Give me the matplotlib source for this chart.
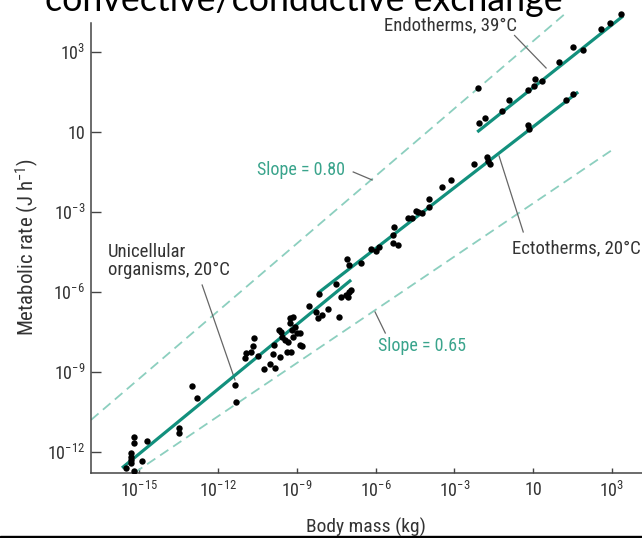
import numpy as np
import matplotlib
matplotlib.use("Agg")
import matplotlib.pyplot as plt
from matplotlib import font_manager
from matplotlib.ticker import FixedLocator, FixedFormatter, NullLocator
from matplotlib.patches import Rectangle

# ---------------- data (log10 units) ----------------
uni_logM = [-15.19, -15.19, -14.70, -15.30, -15.30, -15.30, -15.30, -15.49, -15.19, -14.89,
            -13.48, -13.48, -12.98, -12.79, -11.35, -11.31]
uni_logB = [-11.44, -11.66, -11.59, -12.04, -12.19, -12.30, -12.41, -12.60, -12.71, -12.34,
            -11.10, -11.29, -9.52, -9.97, -9.49, -10.12]

small_logM = [-10.62, -10.66, -10.93, -10.74, -10.47, -10.97, -10.24, -10.01, -9.82, -9.90,
              -9.86, -9.63, -9.59, -9.56, -9.44, -9.37, -9.21, -9.25, -9.14, -9.18,
              -9.06, -8.99, -8.87, -8.80, -9.14, -9.33, -8.87, -9.67, -8.53, -8.15,
              -8.26, -8.03, -7.81, -8.19, -7.50, -7.39, -7.31, -7.12, -7.01, -6.93,
              -7.04, -9.25]
small_logB = [-7.72, -8.02, -8.29, -8.25, -8.40, -8.47, -8.89, -8.70, -8.85, -8.32,
              -7.99, -8.44, -7.50, -7.69, -7.80, -8.25, -8.25, -7.16, -6.94, -7.42,
              -7.31, -7.54, -7.99, -8.02, -7.69, -7.87, -7.54, -7.42, -6.52, -6.07,
              -6.75, -6.86, -6.64, -6.97, -5.70, -6.94, -6.19, -6.11, -6.00, -5.92,
              -6.19, -6.97]

ecto_logM = [-7.08, -7.01, -6.55, -6.17, -5.98, -5.86, -5.33, -5.29, -5.33, -5.14,
             -4.76, -4.61, -4.46, -4.38, -4.23, -3.96, -3.96, -3.47, -3.12, -2.25,
             -1.75, -1.72, -1.64, -0.19, -0.15, 1.25, 1.52]
ecto_logB = [-4.76, -4.99, -4.91, -4.39, -4.46, -4.31, -3.86, -3.56, -4.16, -4.24,
             -3.22, -3.22, -2.96, -3.00, -3.04, -2.81, -2.51, -2.06, -1.80, -1.20,
             -0.94, -1.09, -1.20, 0.26, 0.11, 1.20, 1.43]

endo_logM = [-2.10, -2.06, -1.83, -1.18, -0.92, -0.19, 0.04, 0.07, 0.34, 0.99,
             1.52, 1.90, 2.59, 2.93, 3.35]
endo_logB = [1.65, 0.34, 0.53, 0.79, 1.20, 1.58, 1.73, 1.99, 1.91, 2.63,
             3.19, 3.08, 3.86, 4.09, 4.43]

# fitted lines (endpoints, log10 units)
uni_fit_logM = [-15.65, -6.93]
uni_fit_logB = [-12.60, -5.55]
ecto_fit_logM = [-8.19, 1.71]
ecto_fit_logB = [-6.04, 1.50]
endo_fit_logM = [-2.13, 3.42]
endo_fit_logB = [0.00, 4.35]
slope080_logM = [-16.83, 1.29]
slope080_logB = [-10.80, 4.50]
slope065_logM = [-15.19, 3.01]
slope065_logB = [-12.79, -0.67]

tick_exps = [-15, -12, -9, -6, -3, 0, 3]
xtick_labels = [r"$10^{-15}$", r"$10^{-12}$", r"$10^{-9}$", r"$10^{-6}$", r"$10^{-3}$", "10", r"$10^{3}$"]
ytick_exps = [-12, -9, -6, -3, 0, 3]
ytick_labels = [r"$10^{-12}$", r"$10^{-9}$", r"$10^{-6}$", r"$10^{-3}$", "10", r"$10^{3}$"]

title_text = "convective/conductive exchange"
xlabel_text = "Body mass (kg)"
ylabel_text = r"Metabolic rate (J h$^{-1}$)"

# ---------------- style ----------------
ttf = font_manager.fontManager.ttflist
names = {f.name for f in ttf}
cond = None
stretch = "normal"
for cand in ["Liberation Sans Narrow", "Roboto Condensed", "Open Sans Condensed",
             "Noto Sans Condensed", "DejaVu Sans Condensed", "Arial Narrow"]:
    if cand in names:
        cond = cand
        break
if cond is None:
    if any(f.name == "DejaVu Sans" and "Condensed" in f.fname for f in ttf):
        cond = "DejaVu Sans"
        stretch = "condensed"
    else:
        cond = "Liberation Sans"

plt.rcParams["font.family"] = [cond, "DejaVu Sans"]
plt.rcParams["font.stretch"] = stretch
plt.rcParams["mathtext.fontset"] = "custom"
plt.rcParams["mathtext.rm"] = cond
plt.rcParams["mathtext.it"] = cond + ":italic"
plt.rcParams["mathtext.bf"] = cond + ":bold"
plt.rcParams["mathtext.sf"] = cond

TEAL = "#12907d"
LTEAL = "#8ccfbf"
STEXT = "#3aa48c"
GRAY = "#444444"
TXT = "#333333"

p = lambda a: 10.0 ** np.asarray(a, dtype=float)

fig = plt.figure(figsize=(6.42, 5.38), dpi=100)
ax = fig.add_axes([91 / 642, (538 - 473) / 538, (642 - 91) / 642, 473 / 538])
ax.set_xscale("log")
ax.set_yscale("log")
ax.set_xlim(10 ** -16.83, 10 ** 4.14)
ax.set_ylim(10 ** -12.79, 10 ** 4.95)

# dashed reference lines
dash = (0, (5.5, 3.2))
ax.plot(p(slope080_logM), p(slope080_logB), color=LTEAL, lw=1.3, ls=dash, zorder=2)
ax.plot(p(slope065_logM), p(slope065_logB), color=LTEAL, lw=1.3, ls=dash, zorder=2)

# fits
for xm, yb in [(uni_fit_logM, uni_fit_logB), (ecto_fit_logM, ecto_fit_logB), (endo_fit_logM, endo_fit_logB)]:
    ax.plot(p(xm), p(yb), color=TEAL, lw=2.3, solid_capstyle="butt", zorder=3)

# points
for xm, yb in [(uni_logM, uni_logB), (small_logM, small_logB), (ecto_logM, ecto_logB), (endo_logM, endo_logB)]:
    ax.plot(p(xm), p(yb), "o", color="black", ms=4.6, mew=0, zorder=4)

# leader lines
leaders = [([-0.71, 0.49], [3.62, 2.40]),
           ([-1.30, -0.38], [-0.90, -3.75]),
           ([-12.60, -11.35], [-5.74, -9.30]),
           ([-6.85, -6.13], [-1.50, -1.80]),
           ([-6.02, -5.63], [-6.75, -7.54])]
for xm, yb in leaders:
    ax.plot(p(xm), p(yb), color="#666666", lw=0.9, zorder=2)

LFS = 13.5
ax.text(10 ** -3.16, 10 ** 4.01, "Endotherms, 39°C", ha="center", va="center", fontsize=LFS, color=TXT)
ax.text(10 ** 1.63, 10 ** -4.35, "Ectotherms, 20°C", ha="center", va="center", fontsize=LFS, color=TXT)
ax.text(10 ** -16.18, 10 ** -4.84, "Unicellular\norganisms, 20°C", ha="left", va="center",
        fontsize=LFS, color=TXT, linespacing=1.05)
ax.text(10 ** -8.83, 10 ** -1.42, "Slope = 0.80", ha="center", va="center", fontsize=13, color=STEXT)
ax.text(10 ** -4.23, 10 ** -8.02, "Slope = 0.65", ha="center", va="center", fontsize=13, color=STEXT)

# axes styling
for s in ["top", "right"]:
    ax.spines[s].set_visible(False)
ax.spines["left"].set_bounds(10 ** -12.79, 10 ** 4.09)
for s in ["left", "bottom"]:
    ax.spines[s].set_color(GRAY)
    ax.spines[s].set_linewidth(1.1)

ax.xaxis.set_major_locator(FixedLocator(p(tick_exps)))
ax.xaxis.set_major_formatter(FixedFormatter(xtick_labels))
ax.yaxis.set_major_locator(FixedLocator(p(ytick_exps)))
ax.yaxis.set_major_formatter(FixedFormatter(ytick_labels))
ax.xaxis.set_minor_locator(NullLocator())
ax.yaxis.set_minor_locator(NullLocator())
ax.tick_params(axis="x", direction="in", length=3.8, width=1.0, color=GRAY, pad=6,
               labelsize=13, labelcolor=TXT)
ax.tick_params(axis="y", direction="in", length=7.5, width=1.0, color=GRAY, pad=4,
               labelsize=13, labelcolor=TXT)

fig.text(366 / 642, 1 - 527 / 538, xlabel_text, ha="center", va="center", fontsize=14, color=TXT)
fig.text(27 / 642, 1 - 247 / 538, ylabel_text, ha="center", va="center", rotation=90,
         fontsize=15, color=TXT)

# slide title (cut off at top)
tfam = ["Lato", "Open Sans", "DejaVu Sans"]
t = fig.text(45 / 642, 1 - 11 / 538, title_text, ha="left", va="baseline", fontsize=26,
             family=tfam, stretch="normal", color="black")
fig.canvas.draw()
w = t.get_window_extent().width
t.set_fontsize(26 * 517 / w)

fig.patches.append(Rectangle((0, 0), 1, 2.5 / 538, transform=fig.transFigure, color="black"))

fig.savefig("out.png", dpi=100)
